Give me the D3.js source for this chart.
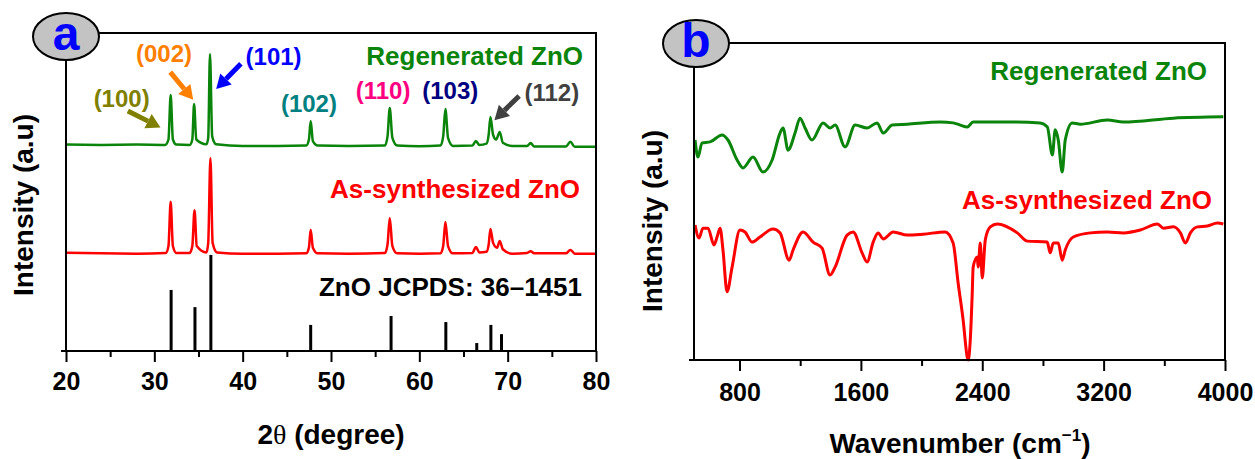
<!DOCTYPE html>
<html>
<head>
<meta charset="utf-8">
<script src="https://cdn.jsdelivr.net/npm/d3@7"></script>
<style>
  body { margin: 0; background: #fff; }
  text { font-family: "Liberation Sans", Arial, sans-serif; font-weight: bold; }
</style>
</head>
<body>
<svg id="chart" width="1255" height="459"></svg>
<script>
// XRD, panel a: [2theta, intensity a.u.]
const xrdRegen = [[20,64.9],[24,64.8],[28,64.9],[31.2,64.8],[31.6,66.5],[31.85,80.5],[32.1,66.5],[32.5,64.9],
  [34.0,64.8],[34.3,66.5],[34.5,77.7],[34.75,66.5],[35.9,65],[36.1,67],[36.3,93.4],[36.55,67.5],[37.0,65],
  [40,64.5],[44,64.5],[47.2,64.6],[47.5,66.5],[47.7,72.3],[47.95,66],[48.5,64.6],[52,64.5],
  [56.1,64.6],[56.4,67.5],[56.65,76.4],[56.95,67],[57.5,64.6],[60,64.4],[62.4,64.6],[62.7,67.5],[62.95,76.1],
  [63.25,67],[63.8,64.5],[66.0,64.6],[66.4,66.0],[66.8,64.8],[67.6,65.2],[67.85,68],[68.05,73.6],[68.35,68],
  [68.7,66.5],[69.1,68.9],[69.45,65.5],[70.5,64.5],[72.2,64.5],[72.6,65.4],[73.0,64.3],[76.6,64.3],
  [77.1,65.8],[77.6,64.2],[80,64.2]];
const xrdAsSyn = [[20,30.9],[24,30.7],[28,30.6],[31.3,30.8],[31.6,33],[31.85,46.9],[32.1,33],[32.5,30.8],
  [34.0,30.8],[34.3,33],[34.55,44.3],[34.8,33],[35.9,31],[36.1,34],[36.35,60.7],[36.6,34],[37.1,31],
  [40,30.6],[44,30.6],[47.2,30.7],[47.5,32.5],[47.7,38.1],[47.95,32.5],[48.5,30.7],[52,30.6],
  [56.1,30.8],[56.4,33.5],[56.65,41.8],[56.95,33],[57.5,30.7],[60,30.6],[62.4,30.7],[62.7,33],[62.95,40.6],
  [63.25,33],[63.8,30.7],[66.0,30.8],[66.4,32.7],[66.8,31],[67.6,31.2],[67.85,33.5],[68.05,38.4],[68.35,34],
  [68.8,32.5],[69.1,34.6],[69.45,32],[70.5,30.6],[72.2,30.8],[72.6,31.4],[73.0,30.7],[76.6,30.7],
  [77.1,31.8],[77.6,30.6],[80,30.6]];
// JCPDS 36-1451 reference sticks
const jcpdsPos = [31.9, 34.6, 36.4, 47.7, 56.8, 63.0, 66.5, 68.1, 69.3];
const jcpdsInt = [19.2, 13.8, 30.2, 8.2, 11.0, 9.1, 2.5, 8.2, 5.3];

// hkl labels: [text, colour, 2theta, intensity]
const hklLabels = [["(100)", "#808000", 26.3, 76.7], ["(002)", "#ff8000", 31.1, 90.9],
  ["(101)", "#0000ff", 43.5, 89.9], ["(102)", "#008080", 47.5, 75.2], ["(110)", "#ff0080", 55.9, 79.2],
  ["(103)", "#000080", 63.5, 79.2], ["(112)", "#404040", 75.0, 78.6]];
// arrows: [colour, from 2theta, from I, to 2theta, to I]
const hklArrows = [["#808000", 27.0, 75.5, 30.7, 70.3], ["#ff8000", 31.8, 87.7, 34.4, 79.0],
  ["#0000ff", 39.8, 90.3, 37.0, 82.4], ["#404040", 71.3, 80.2, 68.5, 72.6]];

// FTIR, panel b: [wavenumber, intensity a.u.]
const ftirRegen = [[507,69.4],[526,64.0],[553,68.5],[606,68.8],[685,71.0],[724,69.4],[784,63.1],[823,60.6],
  [889,64.0],[955,59.3],[1015,63.1],[1067,71.6],[1087,73.2],[1120,66.2],[1166,71.6],[1199,76.3],[1232,73.2],
  [1278,69.4],[1351,74.8],[1397,73.2],[1430,74.1],[1496,67.2],[1562,74.1],[1641,73.2],[1707,74.8],[1747,71.6],
  [1806,74.1],[1905,74.4],[2123,75.1],[2208,74.8],[2255,74.1],[2301,73.5],[2340,75.1],[2565,75.1],[2782,74.8],
  [2829,73.5],[2862,64.7],[2881,72.6],[2901,69.4],[2927,59.3],[2947,69.4],[2993,74.8],[3046,74.4],[3224,75.7],
  [3330,75.1],[3660,76.3],[3989,76.7]];
const ftirAsSyn = [[507,42.6],[533,38.5],[559,41.6],[592,41.6],[632,36.3],[652,38.8],[672,41.6],[691,34.7],
  [718,21.5],[751,29.3],[803,41.0],[836,40.4],[883,37.2],[935,38.8],[1021,41.3],[1067,40.1],[1127,31.5],
  [1153,34.7],[1219,40.4],[1285,37.2],[1344,35.3],[1397,26.8],[1430,29.3],[1509,39.4],[1549,40.4],[1608,33.8],
  [1641,30.9],[1681,37.2],[1714,40.1],[1747,38.2],[1813,40.4],[1905,39.4],[2011,39.7],[2156,40.4],[2208,36.9],
  [2241,24.3],[2274,12.6],[2301,0.9],[2307,0],[2321,6.3],[2334,21.1],[2340,29.3],[2367,32.5],[2373,29.3],
  [2387,36.9],[2400,25.9],[2420,37.9],[2453,42.0],[2499,42.9],[2631,40.1],[2697,37.5],[2828,37.2],[2848,33.8],
  [2868,36.9],[2901,36.9],[2927,31.5],[2947,34.7],[3000,38.8],[3112,40.1],[3224,40.4],[3330,40.1],[3442,41.0],
  [3555,42.9],[3594,41.6],[3660,42.0],[3706,40.1],[3739,36.9],[3772,40.1],[3818,42.0],[3884,42.3],[3950,43.2],
  [3989,42.9]];

const xrdTicks = [20, 30, 40, 50, 60, 70, 80];
const xrdMinor = [25, 35, 45, 55, 65, 75];
const ftirTicks = [800, 1600, 2400, 3200, 4000];
const ftirMinor = [1200, 2000, 2800, 3600];

const svg = d3.select("#chart");
const green = "#0a840a", red = "#ff0000";

function frame(g, x0, x1, y0, y1) {
  g.append("path")
    .attr("d", `M${x0},${y1}V${y0}H${x1}V${y1}`)
    .attr("fill", "none").attr("stroke", "#000").attr("stroke-width", 2);
  g.append("line").attr("x1", x0 - 5).attr("x2", x1).attr("y1", y1).attr("y2", y1)
    .attr("stroke", "#000").attr("stroke-width", 2);
}

function xAxis(g, x, y1, major, minor, pad) {
  const ax = g.append("g").attr("transform", `translate(0,${y1})`)
    .call(d3.axisBottom(x).tickValues(major).tickFormat(d3.format("d"))
      .tickSize(11).tickPadding(pad).tickSizeOuter(0));
  ax.select(".domain").remove();
  ax.selectAll("line").attr("stroke-width", 2);
  ax.selectAll("text").attr("font-size", 25).attr("fill", "#000")
    .style("font-family", '"Liberation Sans", Arial, sans-serif').style("font-weight", "bold");
  const mn = g.append("g").attr("transform", `translate(0,${y1})`)
    .call(d3.axisBottom(x).tickValues(minor).tickSize(6).tickFormat("").tickSizeOuter(0));
  mn.select(".domain").remove();
  mn.selectAll("line").attr("stroke-width", 2);
}

function badge(g, cx, cy, letter, base) {
  g.append("ellipse").attr("cx", cx).attr("cy", cy).attr("rx", 33).attr("ry", 23.5)
    .attr("fill", "#c3c3c3").attr("stroke", "#000").attr("stroke-width", 2);
  g.append("text").attr("x", cx).attr("y", base).attr("text-anchor", "middle")
    .attr("font-size", 48).attr("fill", "#0000ff").text(letter);
}

function yLabel(g, x, y) {
  g.append("text").attr("transform", `translate(${x},${y}) rotate(-90)`)
    .attr("text-anchor", "middle").attr("font-size", 28).text("Intensity (a.u)");
}

// ---------- panel a ----------
const ga = svg.append("g");
const xa = d3.scaleLinear().domain([20, 80]).range([66, 596]);
const ya = d3.scaleLinear().domain([0, 100]).range([351, 33]);
const lineA = d3.line().x(d => xa(d[0])).y(d => ya(d[1])).curve(d3.curveMonotoneX);

ga.append("g").selectAll("line").data(jcpdsPos).join("line")
  .attr("x1", d => xa(d)).attr("x2", d => xa(d))
  .attr("y1", ya(0)).attr("y2", (d, i) => ya(jcpdsInt[i]))
  .attr("stroke", "#000").attr("stroke-width", 3);

ga.append("path").datum(xrdAsSyn).attr("d", lineA)
  .attr("fill", "none").attr("stroke", red).attr("stroke-width", 2.5);
ga.append("path").datum(xrdRegen).attr("d", lineA)
  .attr("fill", "none").attr("stroke", green).attr("stroke-width", 2.5);

frame(ga, 66, 596, 33, 351);
xAxis(ga, xa, 351, xrdTicks, xrdMinor, 10);

ga.append("text").attr("x", 583).attr("y", 65).attr("text-anchor", "end")
  .attr("font-size", 26).attr("fill", green).text("Regenerated ZnO");
ga.append("text").attr("x", 580).attr("y", 198).attr("text-anchor", "end")
  .attr("font-size", 26).attr("fill", red).text("As-synthesized ZnO");
ga.append("text").attr("x", 582).attr("y", 296).attr("text-anchor", "end")
  .attr("font-size", 26).attr("fill", "#000").text("ZnO JCPDS: 36\u20131451");

ga.selectAll(".hkl").data(hklLabels).join("text").attr("class", "hkl")
  .attr("x", d => xa(d[2])).attr("y", d => ya(d[3])).attr("text-anchor", "middle")
  .attr("font-size", 24).attr("fill", d => d[1]).text(d => d[0]);

hklArrows.forEach(a => {
  const x0 = xa(a[1]), y0 = ya(a[2]), x1 = xa(a[3]), y1 = ya(a[4]);
  const ang = Math.atan2(y1 - y0, x1 - x0), hl = 14, hw = 8;
  const bx = x1 - hl * Math.cos(ang), by = y1 - hl * Math.sin(ang);
  ga.append("line").attr("x1", x0).attr("y1", y0).attr("x2", bx).attr("y2", by)
    .attr("stroke", a[0]).attr("stroke-width", 5);
  const px = -Math.sin(ang) * hw, py = Math.cos(ang) * hw;
  ga.append("path").attr("d", `M${x1},${y1}L${bx + px},${by + py}L${bx - px},${by - py}Z`)
    .attr("fill", a[0]);
});

badge(ga, 66, 36.5, "a", 50);
yLabel(ga, 33, 205);
const ta = ga.append("text").attr("x", 331).attr("y", 444).attr("text-anchor", "middle").attr("font-size", 28);
ta.append("tspan").text("2");
ta.append("tspan").style("font-family", '"Liberation Serif", "Times New Roman", serif').style("font-weight", "normal").text("\u03b8");
ta.append("tspan").text(" (degree)");

// ---------- panel b ----------
const gb = svg.append("g");
const xb = d3.scaleLinear().domain([500, 4000]).range([694, 1225]);
const yb = d3.scaleLinear().domain([0, 100]).range([360, 43]);
const lineB = d3.line().x(d => xb(d[0])).y(d => yb(d[1])).curve(d3.curveMonotoneX);

gb.append("path").datum(ftirAsSyn).attr("d", lineB)
  .attr("fill", "none").attr("stroke", red).attr("stroke-width", 3);
gb.append("path").datum(ftirRegen).attr("d", lineB)
  .attr("fill", "none").attr("stroke", green).attr("stroke-width", 3);

frame(gb, 694, 1225, 43, 360);
xAxis(gb, xb, 360, ftirTicks, ftirMinor, 12);

gb.append("text").attr("x", 1207).attr("y", 80).attr("text-anchor", "end")
  .attr("font-size", 26).attr("fill", green).text("Regenerated ZnO");
gb.append("text").attr("x", 1212).attr("y", 209).attr("text-anchor", "end")
  .attr("font-size", 26).attr("fill", red).text("As-synthesized ZnO");

badge(gb, 696, 43.5, "b", 57);
yLabel(gb, 662, 221);
const tb = gb.append("text").attr("x", 960).attr("y", 453).attr("text-anchor", "middle").attr("font-size", 28);
tb.append("tspan").text("Wavenumber (cm");
tb.append("tspan").attr("font-size", 17).attr("dy", -12).text("\u22121");
tb.append("tspan").attr("dy", 12).text(")");
</script>
</body>
</html>
